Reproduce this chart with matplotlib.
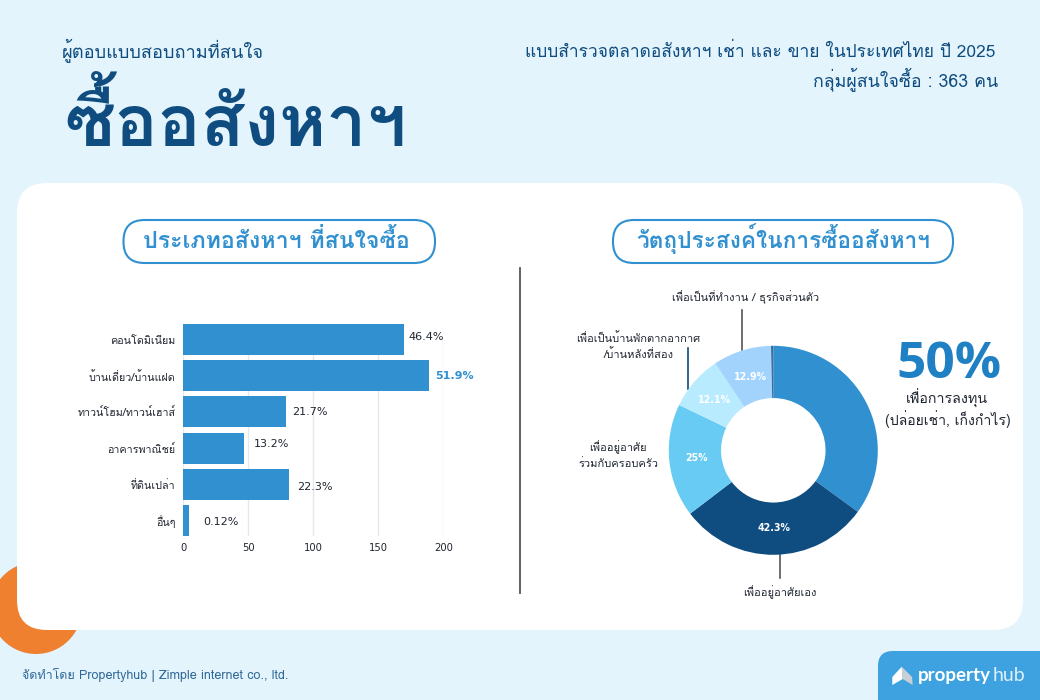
import matplotlib
matplotlib.use('Agg')
import math
import matplotlib.pyplot as plt
from matplotlib.patches import FancyBboxPatch, Circle, Polygon

# ---- data ----
bar_categories = ['คอนโดมิเนียม', 'บ้านเดี่ยว/บ้านแฝด', 'ทาวน์โฮม/ทาวน์เฮาส์', 'อาคารพาณิชย์', 'ที่ดินเปล่า', 'อื่นๆ']
bar_values = [169.5, 189, 79, 47, 81, 4]
bar_labels = ['46.4%', '51.9%', '21.7%', '13.2%', '22.3%', '0.12%']
bar_ticks = [0, 50, 100, 150, 200]
pie_values = [50, 42.3, 25, 12.1, 12.9, 0.5]
pie_labels = ['', '42.3%', '25%', '12.1%', '12.9%', '']
pie_colors = ['#3090D0', '#0F4C7F', '#67CBF3', '#B9EBFF', '#A2D3FD', '#3F6E96']

W, H = 1040, 700
NAVY = '#0F4C7F'; BLUE = '#3090D0'; INK = '#1F2530'
TH = ['Loma', 'Noto Sans Thai', 'DejaVu Sans']

fig = plt.figure(figsize=(W/100, H/100), dpi=100, facecolor='#E3F4FD')
bg = fig.add_axes([0, 0, 1, 1]); bg.set_xlim(0, W); bg.set_ylim(H, 0); bg.axis('off')

def box(x0, y0, x1, y1, r, **kw):
    bg.add_patch(FancyBboxPatch((x0+r, y0+r), x1-x0-2*r, y1-y0-2*r,
                 boxstyle=f'round,pad={r},rounding_size={r}', **kw))

bg.add_patch(Circle((36, 608), 46, fc='#EF8030', ec='none'))
box(17, 183, 1023, 630, 30, fc='white', ec='none')
box(878, 651, 1080, 740, 15, fc='#3EA2E0', ec='none')
box(123.5, 220, 435, 263, 21, fc='white', ec=BLUE, lw=1.5)
box(613, 220, 953, 263, 21, fc='white', ec=BLUE, lw=1.5)

# header
bg.text(62, 57, 'ผู้ตอบแบบสอบถามที่สนใจ', family=TH, fontsize=13.1, color=NAVY)
bg.text(64, 146, 'ซื้ออสังหาฯ', family=TH, weight='bold', fontsize=51.5, color=NAVY)
bg.text(995, 57, 'แบบสำรวจตลาดอสังหาฯ เช่า และ ขาย ในประเทศไทย ปี 2025', family=TH,
        fontsize=12.5, color=NAVY, ha='right')
bg.text(998, 86, 'กลุ่มผู้สนใจซื้อ : 363 คน', family=TH, fontsize=12.8, color=NAVY, ha='right')
bg.text(276, 248, 'ประเภทอสังหาฯ ที่สนใจซื้อ', family=TH, weight='bold', fontsize=16.7, color=BLUE, ha='center')
bg.text(783, 248, 'วัตถุประสงค์ในการซื้ออสังหาฯ', family=TH, weight='bold', fontsize=16.3, color=BLUE, ha='center')

# separator
bg.plot([520, 520], [268, 593], color='#555555', lw=1.3)

# bars
ax = fig.add_axes([183.3/W, 1-536/H, 260/W, 212/H]); ax.patch.set_alpha(0)
ypos = list(range(len(bar_values)))
ax.barh(ypos, bar_values, height=0.86, color=BLUE, zorder=3)
ax.set_xlim(0, 200); ax.set_ylim(5.43, -0.43)
ax.set_xticks(bar_ticks); ax.set_yticks(ypos)
ax.set_yticklabels(bar_categories, family=TH, fontsize=7.75, color=INK)
ax.tick_params(length=0, labelcolor=INK)
ax.tick_params(axis='x', pad=5, labelsize=7.2); ax.tick_params(axis='y', pad=5.5, labelsize=7.75)
ax.grid(axis='x', color='#E8E8E8', lw=1, zorder=0)
for s in ax.spines.values(): s.set_visible(False)
bar_off_x = [5, 6, 6, 9, 9, 15]
bar_off_y = [3, 0, 0, 4, -3, -2]
for i, (v, l) in enumerate(zip(bar_values, bar_labels)):
    hi = i == 1
    ax.annotate(l, (v, i), xytext=(bar_off_x[i]/1.389, bar_off_y[i]/1.389), textcoords='offset points',
                va='center', ha='left', fontsize=8, annotation_clip=False,
                color=BLUE if hi else INK, weight='bold' if hi else 'normal')

# donut
cx, cy, R = 773.3, 450.3, 104.5
pa = fig.add_axes([(cx-R)/W, 1-(cy+R)/H, 2*R/W, 2*R/H])
wedges, _ = pa.pie(pie_values, colors=pie_colors, startangle=90, counterclock=False,
                   radius=1, wedgeprops=dict(width=0.5))
pa.set_xlim(-1, 1); pa.set_ylim(-1, 1)
for w, l in zip(wedges, pie_labels):
    if l:
        a = math.radians((w.theta1 + w.theta2)/2)
        pa.text(0.74*math.cos(a), 0.74*math.sin(a), l, color='white', weight='bold', fontsize=6.85,
                ha='center', va='center')

# leaders
for x, y0, y1, c in [(741.7, 310, 350, '#555555'), (688.3, 348, 389, NAVY), (780, 555, 578, '#555555')]:
    bg.plot([x, x], [y0, y1], color=c, lw=1.2)

# donut captions
for x, y, s in [(746, 301, 'เพื่อเป็นที่ทำงาน / ธุรกิจส่วนตัว'),
                (638, 342, 'เพื่อเป็นบ้านพักตากอากาศ'), (638, 358, '/บ้านหลังที่สอง'),
                (618, 451, 'เพื่ออยู่อาศัย'), (618, 467, 'ร่วมกับครอบครัว'),
                (780, 596, 'เพื่ออยู่อาศัยเอง')]:
    bg.text(x, y, s, family=TH, fontsize=8, color=INK, ha='center')

bg.text(949, 378, '50%', family=['Open Sans', 'DejaVu Sans'], weight='bold', fontsize=37, color='#2080C4', ha='center')
bg.text(947, 404, 'เพื่อการลงทุน', family=TH, fontsize=10.3, color=INK, ha='center')
bg.text(948, 425, '(ปล่อยเช่า, เก็งกำไร)', family=TH, fontsize=10.1, color=INK, ha='center')

# footer
bg.text(22, 679, 'จัดทำโดย Propertyhub | Zimple internet co., ltd.', family=TH, fontsize=9, color='#2E6795')
bg.add_patch(Polygon([(901.7, 666.7), (892.3, 677), (892.3, 685), (902.7, 679)], fc='white', ec='none'))
bg.add_patch(Polygon([(901.7, 666.7), (912, 677), (912.7, 685), (902.7, 679)], fc='#C8D0D6', ec='none'))
bg.text(918, 681, 'property', family=['Lato', 'DejaVu Sans'], weight='bold', fontsize=13.5, color='white')
bg.text(993, 681, 'hub', family=['Lato', 'DejaVu Sans'], fontsize=14, color='#DDEFFA')

fig.savefig('out.png', dpi=100, facecolor=fig.get_facecolor())
